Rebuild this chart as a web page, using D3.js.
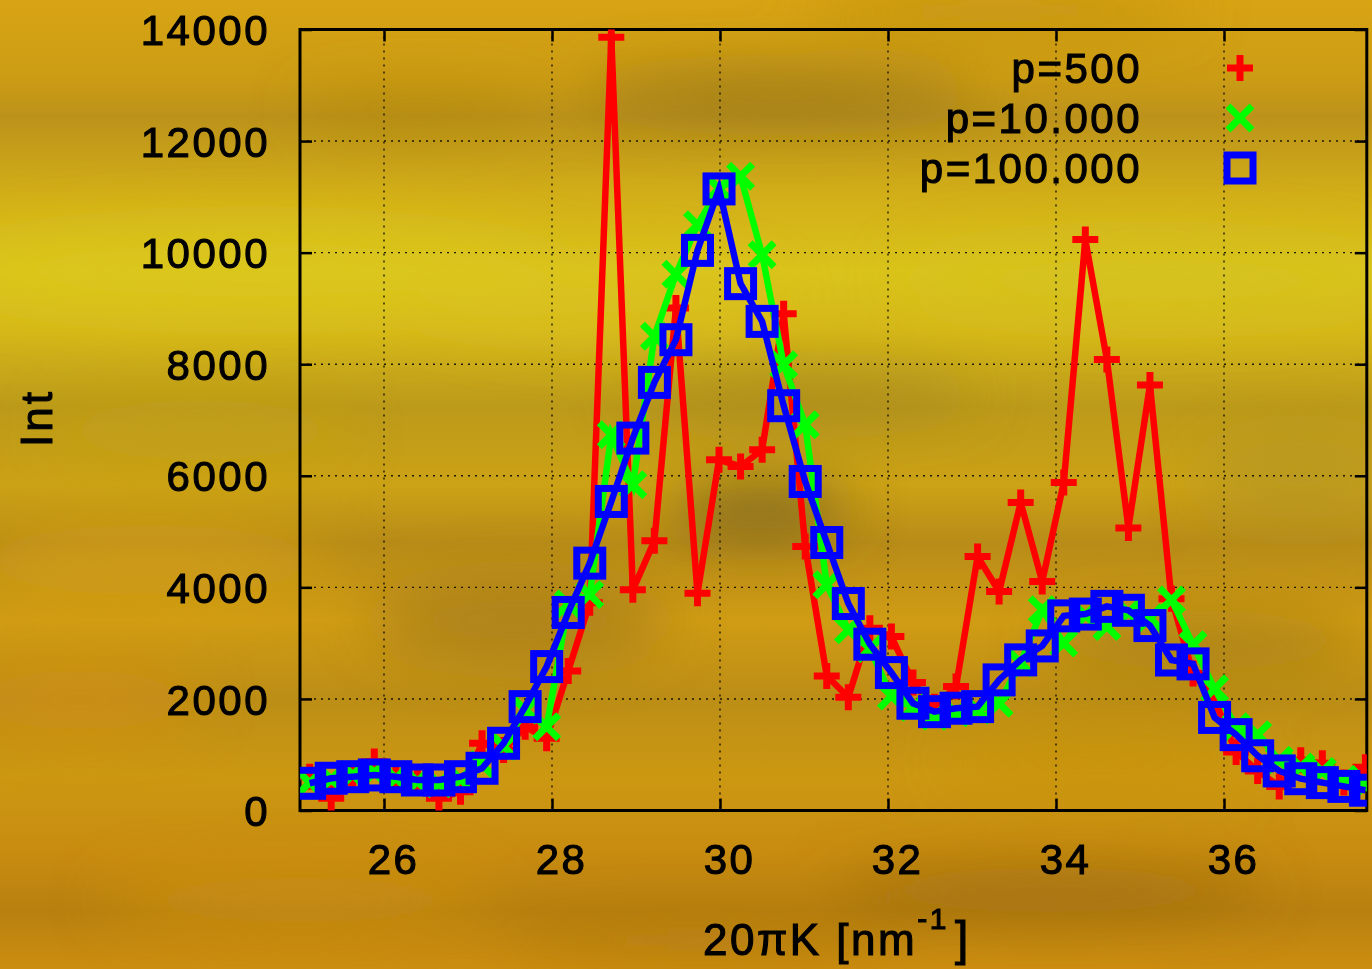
<!DOCTYPE html>
<html><head><meta charset="utf-8">
<script src="https://cdn.jsdelivr.net/npm/d3@7"></script>
<style>
html,body{margin:0;padding:0;background:#c9960f;}
svg{display:block;}
text{font-family:"Liberation Sans",Arial,sans-serif;fill:#000;stroke:#000;stroke-width:1.1px;}
</style></head>
<body>
<script>
// ---- data ----
const kValues = [25.115,25.3715,25.628,25.8845,26.141,26.3975,26.654,26.9105,27.167,27.4235,
  27.68,27.9365,28.193,28.4495,28.706,28.9625,29.219,29.4755,29.732,29.9885,
  30.245,30.5015,30.758,31.0145,31.271,31.5275,31.784,32.0405,32.297,32.5535,
  32.81,33.0665,33.323,33.5795,33.836,34.0925,34.349,34.6055,34.862,35.1185,
  35.375,35.6315,35.888,36.1445,36.401,36.6575,36.914,37.1705,37.427,37.6835];
const p500 = [606,218,600,880,580,500,218,337,1205,1085,
  1500,1295,2500,3722,13860,3955,4834,9008,3896,6287,
  6167,6466,8906,4732,2413,2030,3268,3118,2293,1862,
  2221,4553,3925,5521,4104,5880,10235,8086,5066,7627,
  3796,2457,1982,1050,709,432,900,845,500,775];
const p10000 = [500,560,640,680,580,520,480,560,820,1150,
  1800,1500,3700,3870,6735,5838,8500,9614,10500,11150,
  11368,9964,7991,6915,4045,3238,2900,2050,1850,1690,
  1750,1800,1923,2650,3600,3000,3500,3300,3550,3450,
  3776,2972,2183,1500,1360,900,780,700,560,450];
const p100000 = [488,578,606,637,606,547,547,606,757,1205,
  1862,2580,3550,4434,5540,6676,7674,8439,10041,11142,
  9444,8768,7256,5898,4804,3710,2981,2472,1923,1772,
  1833,1862,2341,2700,2950,3489,3521,3659,3589,3315,
  2698,2628,1668,1360,981,709,570,500,432,364];
const seriesNames = ["p=500","p=10.000","p=100.000"];
const seriesColors = ["#ff0000","#00ff00","#0000ff"];
const seriesSymbols = ["plus","cross","square"];
const xTicks = [26,28,30,32,34,36];
const yTicks = [0,2000,4000,6000,8000,10000,12000,14000];
const xDomain = [25,37.7];
const yDomain = [0,14000];
const xTitle = "20πK [nm";
const xTitleSup = "-1";
const yTitle = "Int";

// ---- setup ----
const W = 1372, H = 969;
const L = 300, T = 29.5, R = 1366.8, B = 810.5;
const svg = d3.select("body").append("svg").attr("width",W).attr("height",H);
const defs = svg.append("defs");

// background
const bg = defs.append("linearGradient").attr("id","bg").attr("x1",0).attr("y1",0).attr("x2",0).attr("y2",1);
[[0,"#d8a414"],[0.08,"#cc9c14"],[0.12,"#bc921a"],[0.2,"#d2ae18"],[0.28,"#dac41c"],[0.34,"#d6b81a"],
 [0.42,"#bc9a1a"],[0.5,"#cca216"],[0.56,"#b88c18"],[0.64,"#d09c14"],[0.72,"#bc8e16"],[0.8,"#cc9812"],
 [0.88,"#c88c10"],[0.94,"#b88010"],[1,"#cc8e10"]].forEach(([o,c])=>bg.append("stop").attr("offset",o).attr("stop-color",c));
svg.append("rect").attr("width",W).attr("height",H).attr("fill","url(#bg)");
const blur = defs.append("filter").attr("id","blur").attr("x","-50%").attr("y","-50%").attr("width","200%").attr("height","200%");
blur.append("feGaussianBlur").attr("stdDeviation",28);
const blobs = [
  [780,95,200,22,"#8e7018",0.75],[420,110,120,18,"#a88418",0.5],[1000,10,200,20,"#b08418",0.5],
  [250,270,300,45,"#dcc820",0.7],[1150,280,250,40,"#d4c21e",0.6],[600,300,180,35,"#dcc420",0.5],
  [760,510,90,25,"#6e5a22",0.8],[800,395,180,25,"#9a8020",0.5],[150,560,180,35,"#e0a812",0.5],
  [520,620,150,40,"#94701a",0.6],[1200,640,160,30,"#8a6c1c",0.45],[80,700,120,30,"#d88e10",0.6],
  [1050,890,220,25,"#8e6210",0.55],[300,900,200,25,"#d89a12",0.5],[700,940,200,20,"#a87414",0.5],
  [1300,480,100,40,"#a8922a",0.5],[200,430,150,30,"#c4a418",0.5],[1100,760,160,30,"#c99010",0.4]
];
const gb = svg.append("g").attr("filter","url(#blur)");
blobs.forEach(b=>gb.append("ellipse").attr("cx",b[0]).attr("cy",b[1]).attr("rx",b[2]).attr("ry",b[3]).attr("fill",b[4]).attr("opacity",b[5]));

// scales
const x = d3.scaleLinear().domain(xDomain).range([L,R]);
const y = d3.scaleLinear().domain(yDomain).range([B,T]);

defs.append("clipPath").attr("id","clip").append("rect").attr("x",L).attr("y",T).attr("width",R-L).attr("height",B-T);

// grid
const grid = svg.append("g").attr("stroke","#000").attr("stroke-width",1.4).attr("stroke-dasharray","2,5").attr("opacity",0.85);
xTicks.forEach(v=>grid.append("line").attr("x1",x(v)).attr("x2",x(v)).attr("y1",T).attr("y2",B));
yTicks.filter(v=>v>yDomain[0]&&v<yDomain[1]).forEach(v=>grid.append("line").attr("x1",L).attr("x2",R).attr("y1",y(v)).attr("y2",y(v)));

// axes (ticks inward, mirrored)
const tickLen = 12;
const axL = svg.append("g").attr("transform",`translate(${L},0)`).call(d3.axisLeft(y).tickValues(yTicks).tickSize(-tickLen).tickFormat(d3.format("d")).tickPadding(30));
const axR = svg.append("g").attr("transform",`translate(${R},0)`).call(d3.axisRight(y).tickValues(yTicks).tickSize(-tickLen).tickFormat(""));
const axB = svg.append("g").attr("transform",`translate(0,${B})`).call(d3.axisBottom(x).tickValues(xTicks).tickSize(-tickLen).tickFormat(d3.format("d")).tickPadding(34));
const axT = svg.append("g").attr("transform",`translate(0,${T})`).call(d3.axisTop(x).tickValues(xTicks).tickSize(-tickLen).tickFormat(""));
[axL,axR,axB,axT].forEach(a=>{a.select(".domain").remove();a.selectAll(".tick line").attr("stroke","#000").attr("stroke-width",2.5);});
axL.selectAll(".tick text").attr("font-size",42).attr("letter-spacing","2.5px").attr("font-family","Liberation Sans, Arial, sans-serif").attr("dy","0.36em");
axB.selectAll(".tick text").attr("font-size",42).attr("letter-spacing","2.5px").attr("font-family","Liberation Sans, Arial, sans-serif").attr("dx","9").attr("dy","0.71em");

// frame
svg.append("rect").attr("x",L).attr("y",T).attr("width",R-L).attr("height",B-T).attr("fill","none").attr("stroke","#000").attr("stroke-width",3);

// symbols
function drawSymbol(g, type, cx, cy, color){
  if(type==="plus"){
    g.append("path").attr("d",`M${cx-13},${cy}H${cx+13}M${cx},${cy-13}V${cy+13}`).attr("stroke",color).attr("stroke-width",7).attr("fill","none");
  } else if(type==="cross"){
    g.append("path").attr("d",`M${cx-12},${cy-12}L${cx+12},${cy+12}M${cx-12},${cy+12}L${cx+12},${cy-12}`).attr("stroke",color).attr("stroke-width",7).attr("fill","none");
  } else {
    g.append("rect").attr("x",cx-13).attr("y",cy-13).attr("width",26).attr("height",26).attr("stroke",color).attr("stroke-width",7).attr("fill","none");
  }
}

const allSeries = [p500,p10000,p100000];
const line = d3.line().x((d,i)=>x(kValues[i])).y(d=>y(d));
const plotG = svg.append("g").attr("clip-path","url(#clip)");
allSeries.forEach((vals,si)=>{
  const g = plotG.append("g");
  g.append("path").datum(vals).attr("d",line).attr("fill","none").attr("stroke",seriesColors[si]).attr("stroke-width",6.5).attr("stroke-linejoin","miter");
  vals.forEach((v,i)=>drawSymbol(g, seriesSymbols[si], x(kValues[i]), y(v), seriesColors[si]));
});

// legend
const legY = [68,118,168];
seriesNames.forEach((n,i)=>{
  svg.append("text").attr("x",1142).attr("y",legY[i]+15).attr("text-anchor","end").attr("font-size",42).attr("letter-spacing","2.5px").text(n);
  drawSymbol(svg, seriesSymbols[i], 1240, legY[i], seriesColors[i]);
});

// titles
const xt = svg.append("text").attr("x",703).attr("y",955).attr("font-size",44).attr("letter-spacing","2.5px");
xt.append("tspan").text(xTitle);
xt.append("tspan").attr("font-size",30).attr("dy",-26).text(xTitleSup);
xt.append("tspan").attr("dy",26).attr("dx",6).attr("font-size",48).text("]");
svg.append("text").attr("transform","translate(52,418) rotate(-90)").attr("text-anchor","middle").attr("font-size",44).attr("letter-spacing","3px").text(yTitle);
</script>
</body></html>
